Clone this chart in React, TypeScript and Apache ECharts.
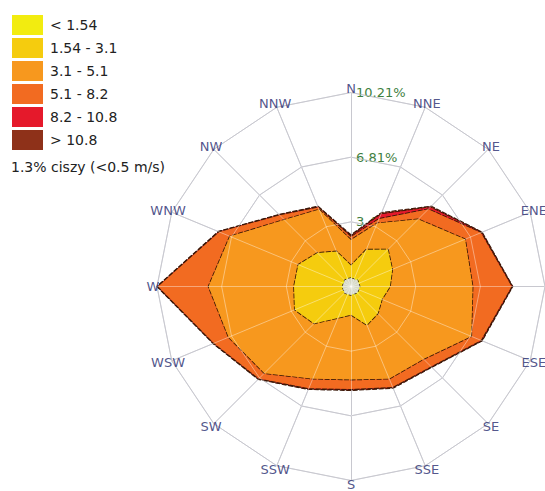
import React, { useEffect, useRef } from 'react';
import * as echarts from 'echarts';

// Compass order, clockwise from N
const DIRECTIONS = ['N', 'NNE', 'NE', 'ENE', 'E', 'ESE', 'SE', 'SSE', 'S', 'SSW', 'SW', 'WSW', 'W', 'WNW', 'NW', 'NNW'];

const BANDS = ['< 1.54', '1.54 - 3.1', '3.1 - 5.1', '5.1 - 8.2', '8.2 - 10.8', '> 10.8'];
const BAND_COLORS = ['#f2ec10', '#f5cc0e', '#f7981e', '#f26b21', '#e5192b', '#8e3119'];

// Frequency (%) per direction for every wind-speed band (compass order)
const BAND_LT_1_54 = [0.5, 0.5, 0.55, 0.5, 0.5, 0.5, 0.55, 0.5, 0.45, 0.5, 0.5, 0.5, 0.5, 0.55, 0.5, 0.5];
const BAND_1_54_3_1 = [0.6, 1.6, 2.2, 1.85, 1.55, 1.26, 1.45, 1.69, 1.04, 1.29, 2.25, 2.7, 2.5, 2.45, 2.0, 1.5];
const BAND_3_1_5_1 = [1.35, 1.5, 2.25, 4.15, 4.35, 5.09, 3.4, 3.06, 3.41, 3.46, 3.7, 3.77, 4.5, 3.9, 2.46, 2.38];
const BAND_5_1_8_2 = [0.15, 0.25, 0.75, 0.9, 2.05, 0.55, 0.55, 0.47, 0.5, 0.55, 0.4, 0.83, 2.65, 0.6, 0.34, 0.12];
const BAND_8_2_10_8 = [0.05, 0.27, 0.15, 0.03, 0.03, 0.03, 0.02, 0.02, 0.02, 0.02, 0.02, 0.02, 0.02, 0.02, 0.02, 0.03];
const BAND_GT_10_8 = [0.05, 0.08, 0.06, 0.03, 0.02, 0.03, 0.03, 0.04, 0.04, 0.03, 0.03, 0.02, 0.03, 0.03, 0.03, 0.03];

const CALM = [0.45, 0.42, 0.48, 0.44, 0.46, 0.43, 0.47, 0.42, 0.45, 0.44, 0.48, 0.43, 0.46, 0.42, 0.47, 0.44];

const RING_MAX = 10.21;
const RING_LABELS = ['3.4%', '6.81%', '10.21%'];
const CALM_TEXT = '1.3% ciszy (<0.5 m/s)';

const FONT = 'DejaVu Sans';

export default function App() {
  const ref = useRef<HTMLDivElement>(null);

  useEffect(() => {
    if (!ref.current) return;
    const chart = echarts.init(ref.current, undefined, { renderer: 'svg' });

    const bandValues = [BAND_LT_1_54, BAND_1_54_3_1, BAND_3_1_5_1, BAND_5_1_8_2, BAND_8_2_10_8, BAND_GT_10_8];
    const cumulative = bandValues.map((_, k) =>
      DIRECTIONS.map((__, d) => bandValues.slice(0, k + 1).reduce((s, arr) => s + arr[d], 0))
    );
    // radar runs counter-clockwise, compass runs clockwise
    const toRadarOrder = (arr: any[]) => [arr[0], ...arr.slice(1).reverse()];
    const radarDirs = toRadarOrder(DIRECTIONS);

    const CX = 351;
    const CY = 286.5;
    const R = 194;

    const baseRadar = {
      center: [CX, CY],
      radius: R,
      startAngle: 90,
      shape: 'polygon',
      splitNumber: 3,
      axisName: { show: false },
      splitArea: { show: false },
      axisTick: { show: false },
      axisLabel: { show: false },
    };

    const borderStyle = { color: '#361506', width: 1.6, type: [5, 1.5] };

    const series: any[] = [];
    for (let k = BANDS.length - 1; k >= 0; k--) {
      series.push({
        type: 'radar',
        name: BANDS[k],
        radarIndex: 0,
        z: 2,
        silent: true,
        symbol: 'none',
        itemStyle: { color: BAND_COLORS[k] },
        areaStyle: { color: BAND_COLORS[k], opacity: 1 },
        lineStyle: k === 0 ? { width: 0 } : borderStyle,
        data: [{ name: BANDS[k], value: toRadarOrder(cumulative[k]) }],
      });
    }
    series.push({
      type: 'radar',
      name: 'calm',
      radarIndex: 0,
      z: 2,
      silent: true,
      symbol: 'none',
      itemStyle: { color: '#d6d8c6' },
      areaStyle: { color: '#d6d8c6', opacity: 1 },
      lineStyle: { color: '#361506', width: 1.4, type: [3, 2] },
      data: [{ name: 'calm', value: toRadarOrder(CALM) }],
    });
    series.push({
      type: 'scatter',
      coordinateSystem: 'polar',
      polarIndex: 0,
      z: 6,
      silent: true,
      symbolSize: 1,
      itemStyle: { color: 'transparent' },
      label: {
        show: true,
        position: 'inside',
        formatter: '{b}',
        color: '#262a6e',
        fontSize: 13,
        fontFamily: FONT,
      },
      data: DIRECTIONS.map((d) => ({ name: d, value: [1, d] })),
    });

    chart.setOption({
      animation: false,
      backgroundColor: '#ffffff',
      title: {
        text: CALM_TEXT,
        left: 11,
        top: 160,
        padding: 0,
        textStyle: { fontSize: 14, fontWeight: 'normal', color: '#222', fontFamily: FONT },
      },
      legend: {
        orient: 'vertical',
        left: 12,
        top: 15,
        padding: 0,
        itemWidth: 31,
        itemHeight: 20,
        itemGap: 3,
        icon: 'rect',
        selectedMode: false,
        itemStyle: { borderWidth: 0 },
        textStyle: { fontSize: 14, color: '#222', fontFamily: FONT, padding: [0, 0, 0, 2] },
        data: BANDS,
      },
      polar: { center: [CX, CY], radius: R + 4 },
      angleAxis: {
        type: 'category',
        data: DIRECTIONS,
        startAngle: 90,
        clockwise: true,
        boundaryGap: false,
        show: false,
      },
      radiusAxis: { min: 0, max: 1, show: false },
      radar: [
        {
          ...baseRadar,
          z: 0,
          axisLine: { lineStyle: { color: '#a4a4b0', width: 1 } },
          splitLine: { lineStyle: { color: '#a4a4b0', width: 1 } },
          indicator: radarDirs.map((d, i) =>
            i === 0
              ? {
                  name: d,
                  min: 0,
                  max: RING_MAX,
                  axisLabel: {
                    show: true,
                    color: '#3f7f3f',
                    fontSize: 13,
                    fontFamily: FONT,
                    margin: -5,
                    align: 'left',
                    formatter: (v: number, idx: number) => (idx > 0 ? RING_LABELS[idx - 1] : ''),
                  },
                }
              : { name: d, min: 0, max: RING_MAX }
          ),
        },
        {
          ...baseRadar,
          z: 5,
          silent: true,
          axisLine: { lineStyle: { color: 'rgba(255,255,255,0.4)', width: 1 } },
          splitLine: { lineStyle: { color: 'rgba(255,255,255,0.4)', width: 1 } },
          indicator: radarDirs.map((d) => ({ name: d, min: 0, max: RING_MAX })),
        },
      ],
      series,
    });

    return () => chart.dispose();
  }, []);

  return (
    <div
      ref={ref}
      style={{ position: 'fixed', left: 0, top: 0, width: 545, height: 491, background: '#fff' }}
    />
  );
}
